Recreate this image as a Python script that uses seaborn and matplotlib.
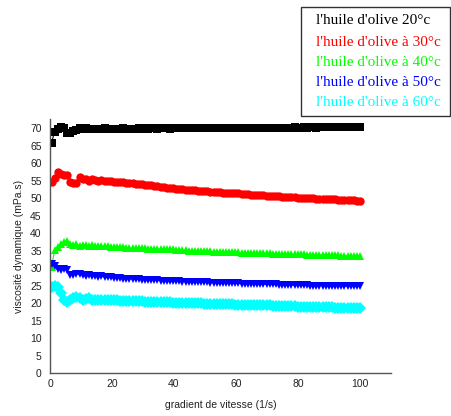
import numpy as np
import pandas as pd
import matplotlib
matplotlib.use("Agg")
import matplotlib.pyplot as plt
from matplotlib.patches import Rectangle
from matplotlib.ticker import MultipleLocator
import seaborn as sns

# shear rate grid (1/s)
gradient = np.linspace(0.5, 100, 100)

visc_20 = [65.8, 69.0, 69.7, 70.4, 70.1, 68.7, 68.6, 69.1, 69.5, 69.9,
           69.7, 69.9, 69.8, 69.6, 69.8, 69.7, 69.8, 69.9, 69.7, 69.8,
           69.8, 69.7, 69.8, 69.9, 69.8, 69.8, 69.7, 69.8, 69.9, 69.8,
           69.9, 69.8, 69.9, 69.9, 69.8, 69.9, 69.9, 69.9, 69.8, 69.9,
           69.9, 69.9, 70.0, 69.9, 69.9, 70.0, 69.9, 70.0, 70.0, 69.9,
           70.0, 70.0, 70.0, 70.0, 70.0, 70.0, 70.1, 70.0, 70.0, 70.0,
           70.0, 70.1, 70.0, 70.1, 70.1, 70.0, 70.1, 70.1, 70.1, 70.1,
           70.1, 70.1, 70.1, 70.1, 70.1, 70.1, 70.1, 70.1, 70.2, 70.1,
           70.1, 70.2, 70.1, 70.2, 70.2, 70.1, 70.2, 70.2, 70.2, 70.2,
           70.2, 70.2, 70.2, 70.2, 70.2, 70.2, 70.2, 70.2, 70.2, 70.2]

visc_30 = [54.7, 55.6, 57.3, 56.9, 56.7, 56.6, 54.7, 54.2, 54.4, 56.1,
           55.3, 55.4, 55.0, 55.3, 55.1, 54.9, 55.2, 54.9, 55.0, 54.8,
           54.7, 54.6, 54.6, 54.5, 54.4, 54.3, 54.2, 54.1, 54.0, 53.9,
           53.8, 53.7, 53.6, 53.5, 53.4, 53.2, 53.1, 53.0, 52.9, 52.8,
           52.7, 52.6, 52.5, 52.4, 52.3, 52.2, 52.2, 52.1, 52.0, 51.9,
           51.9, 51.8, 51.7, 51.7, 51.6, 51.5, 51.5, 51.4, 51.4, 51.3,
           51.3, 51.2, 51.1, 51.1, 51.0, 51.0, 50.9, 50.8, 50.8, 50.7,
           50.7, 50.6, 50.5, 50.5, 50.4, 50.4, 50.3, 50.2, 50.2, 50.1,
           50.1, 50.0, 50.0, 49.9, 49.9, 49.8, 49.8, 49.7, 49.7, 49.6,
           49.6, 49.6, 49.5, 49.5, 49.4, 49.4, 49.3, 49.3, 49.2, 49.2]

visc_40 = [30.4, 35.1, 36.1, 37.0, 37.5, 37.7, 36.9, 36.5, 37.0, 36.4,
           36.7, 36.5, 36.3, 36.6, 36.4, 36.3, 36.4, 36.2, 36.3, 36.1,
           36.0, 36.0, 35.9, 35.9, 35.8, 35.8, 35.7, 35.7, 35.6, 35.6,
           35.6, 35.5, 35.5, 35.5, 35.4, 35.4, 35.4, 35.3, 35.3, 35.3,
           35.2, 35.2, 35.1, 35.1, 35.0, 35.0, 35.0, 34.9, 34.9, 34.8,
           34.8, 34.8, 34.7, 34.7, 34.7, 34.6, 34.6, 34.6, 34.5, 34.5,
           34.5, 34.4, 34.4, 34.4, 34.3, 34.3, 34.3, 34.2, 34.2, 34.2,
           34.2, 34.1, 34.1, 34.1, 34.0, 34.0, 34.0, 34.0, 33.9, 33.9,
           33.9, 33.9, 33.8, 33.8, 33.8, 33.7, 33.7, 33.7, 33.7, 33.6,
           33.6, 33.6, 33.6, 33.5, 33.5, 33.5, 33.5, 33.4, 33.4, 33.4]

visc_50 = [31.2, 30.7, 29.8, 29.4, 29.6, 29.5, 28.1, 28.0, 28.3, 28.2,
           28.0, 27.6, 27.9, 27.6, 27.7, 27.5, 27.6, 27.4, 27.4, 27.3,
           27.2, 27.1, 27.1, 27.0, 27.0, 26.9, 26.9, 26.8, 26.8, 26.7,
           26.7, 26.6, 26.6, 26.5, 26.5, 26.4, 26.4, 26.3, 26.3, 26.2,
           26.2, 26.2, 26.1, 26.1, 26.1, 26.0, 26.0, 26.0, 25.9, 25.9,
           25.9, 25.8, 25.8, 25.8, 25.7, 25.7, 25.7, 25.6, 25.6, 25.6,
           25.6, 25.5, 25.5, 25.5, 25.5, 25.4, 25.4, 25.4, 25.4, 25.3,
           25.3, 25.3, 25.3, 25.2, 25.2, 25.2, 25.2, 25.2, 25.1, 25.1,
           25.1, 25.1, 25.1, 25.0, 25.0, 25.0, 25.0, 25.0, 24.9, 24.9,
           24.9, 24.9, 24.9, 24.9, 24.8, 24.8, 24.8, 24.8, 24.8, 24.8]

visc_60 = [24.7, 24.8, 24.6, 22.8, 21.0, 20.4, 20.9, 21.3, 21.8, 21.3,
           20.9, 21.1, 21.3, 20.9, 21.0, 20.8, 21.0, 20.8, 20.9, 20.8,
           20.8, 20.8, 20.7, 20.7, 20.6, 20.6, 20.6, 20.5, 20.5, 20.5,
           20.4, 20.4, 20.4, 20.3, 20.3, 20.3, 20.2, 20.2, 20.2, 20.1,
           20.1, 20.1, 20.0, 20.0, 20.0, 19.9, 19.9, 19.9, 19.9, 19.8,
           19.8, 19.8, 19.7, 19.7, 19.7, 19.6, 19.6, 19.6, 19.6, 19.5,
           19.5, 19.5, 19.5, 19.4, 19.4, 19.4, 19.4, 19.3, 19.3, 19.3,
           19.3, 19.2, 19.2, 19.2, 19.2, 19.1, 19.1, 19.1, 19.1, 19.0,
           19.0, 19.0, 19.0, 18.9, 18.9, 18.9, 18.9, 18.8, 18.8, 18.8,
           18.8, 18.7, 18.7, 18.7, 18.7, 18.6, 18.6, 18.6, 18.5, 18.5]

labels = ["l'huile d'olive 20°c", "l'huile d'olive à 30°c", "l'huile d'olive à 40°c",
          "l'huile d'olive à 50°c", "l'huile d'olive à 60°c"]
colors = ["#000000", "#FF0000", "#00FF00", "#0000FF", "#00FFFF"]
markers = ["s", "o", "^", "v", "D"]

series = [visc_20, visc_30, visc_40, visc_50, visc_60]
df = pd.concat([pd.DataFrame({"gradient": gradient, "viscosite": s, "serie": lab})
                for s, lab in zip(series, labels)], ignore_index=True)

sns.set_style("white")
plt.rcParams["font.family"] = ["Liberation Sans", "DejaVu Sans"]

fig = plt.figure(figsize=(4.51, 4.16), dpi=100)
ax = fig.add_axes([50 / 451, 1 - 373 / 416, 341 / 451, (373 - 119.3) / 416])

sns.lineplot(data=df, x="gradient", y="viscosite", hue="serie", style="serie",
             hue_order=labels, style_order=labels,
             palette=dict(zip(labels, colors)), markers=dict(zip(labels, markers)),
             dashes=False, markersize=6, markeredgewidth=0, linewidth=0.8,
             legend=False, ax=ax, estimator=None, sort=True)

ax.set_xlim(0, 110)
ax.set_ylim(0, 72.5)
ax.xaxis.set_major_locator(MultipleLocator(20))
ax.xaxis.set_minor_locator(MultipleLocator(10))
ax.yaxis.set_major_locator(MultipleLocator(5))
ax.yaxis.set_minor_locator(MultipleLocator(2.5))

for side in ["top", "right"]:
    ax.spines[side].set_visible(False)
for side in ["left", "bottom"]:
    ax.spines[side].set_color("#555555")
    ax.spines[side].set_linewidth(1.0)

ax.tick_params(axis="x", which="major", direction="in", length=4, width=0.8,
               color="#555555", labelsize=7.5, labelcolor="#222222", pad=4)
ax.tick_params(axis="x", which="minor", direction="in", length=2.5, width=0.8,
               color="#555555")
ax.tick_params(axis="y", which="major", direction="out", length=4, width=0.8,
               color="#555555", labelsize=7.5, labelcolor="#222222", pad=2)
ax.tick_params(axis="y", which="minor", direction="out", length=2.5, width=0.8,
               color="#555555")

ax.set_xlabel("gradient de vitesse (1/s)", fontsize=7.5, color="#222222", labelpad=8)
ax.set_ylabel("viscosité dynamique (mPa.s)", fontsize=7.5, color="#222222", labelpad=4)

# legend box drawn in figure coordinates
fig.patches.append(Rectangle((301 / 451, 1 - 116 / 416), 149 / 451, 109 / 416,
                             transform=fig.transFigure, facecolor="white",
                             edgecolor="#333333", linewidth=1.0))
ys = [20, 42, 62, 82, 102]
for lab, col, yy in zip(labels, colors, ys):
    fig.text(316 / 451, 1 - yy / 416, lab, color=col, fontsize=11,
             family=["Liberation Serif", "DejaVu Serif"], va="center", ha="left")

fig.savefig("out.png", dpi=100)
